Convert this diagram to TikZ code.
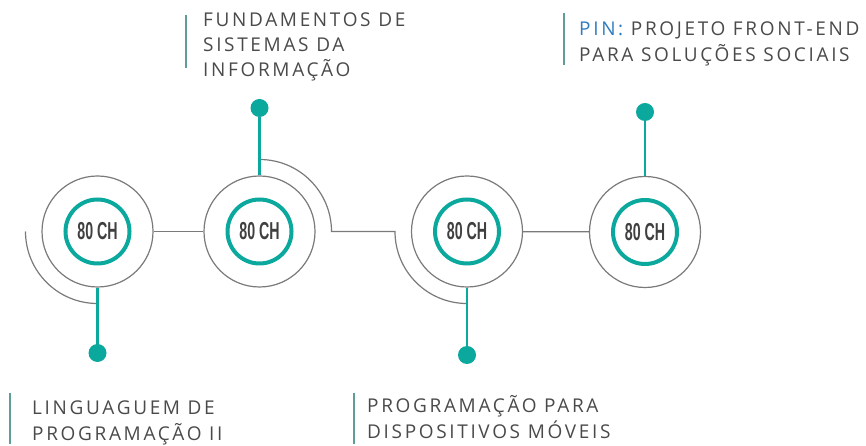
\documentclass[tikz,border=0pt]{standalone}
\usepackage{fontspec}
\newfontfamily\labelfont[LetterSpace=14]{Open Sans}
\newfontfamily\chfont{Liberation Sans}
\definecolor{teal1}{HTML}{0AA89D}
\definecolor{grayline}{HTML}{7A7A7A}
\definecolor{bar}{HTML}{5E9E98}
\definecolor{txt}{HTML}{4A4A4A}
\definecolor{pinblue}{HTML}{2E7CC0}
\definecolor{chtxt}{HTML}{404040}
\newcommand{\chlabel}{\scalebox{0.58}[1]{\chfont\bfseries\fontsize{24.5}{24.5}\selectfont 80 CH}}
\newcommand{\lbl}[1]{\parbox[t]{320pt}{\labelfont\fontsize{19}{25.5}\selectfont\raggedright #1}}
\tikzset{
  outer/.style={circle, draw=grayline, line width=1.2pt, minimum size=111pt, inner sep=0pt},
  ring/.style={circle, draw=teal1, line width=4pt, minimum size=64pt, inner sep=0pt, text=chtxt},
  dot/.style={circle, fill=teal1, minimum size=18pt, inner sep=0pt},
  link/.style={draw=grayline, line width=1.2pt},
  stem/.style={draw=teal1, line width=2.3pt},
  sidebar/.style={draw=bar, line width=2pt},
  lab/.style={anchor=base west, inner sep=0pt, text=txt}
}
\begin{document}
\begin{tikzpicture}[x=1pt,y=1pt]
\useasboundingbox (0,0) rectangle (866,446);
% circles (y = 446 - pixel y)
\node[outer] (c1) at (97.5,214.5) {};
\node[outer] (c2) at (259.5,214.5) {};
\node[outer] (c3) at (467,214.5) {};
\node[outer] (c4) at (645,214) {};
\node[ring] (t1) at (c1) {\chlabel};
\node[ring] (t2) at (c2) {\chlabel};
\node[ring] (t3) at (c3) {\chlabel};
\node[ring] (t4) at (c4) {\chlabel};
% dots
\node[dot] (d1) at (97.5,93) {};
\node[dot] (d2) at (259.5,338) {};
\node[dot] (d3) at (467,91) {};
\node[dot] (d4) at (645,334) {};
% gray connectors
\draw[link] (c1) -- (c2);
\draw[link] (c3) -- (c4);
\coordinate (a1s) at ([xshift=-72pt]c1.center);
\coordinate (a2s) at ([yshift=72pt]c2.center);
\coordinate (a3s) at ([xshift=-72pt]c3.center);
\draw[link] (a1s) arc (180:270:72pt);
\draw[link] (a2s) arc (90:0:72pt) -- (a3s) arc (180:270:72pt);
% teal stems
\draw[stem] (d1) -- (c1.south);
\draw[stem] (d2) -- (c2.north);
\draw[stem] (d3) -- (c3.south);
\draw[stem] (d4) -- (c4.north);
% labels
\coordinate (b2t) at (186,431); \coordinate (b2b) at (186,378);
\draw[sidebar] (b2t) -- (b2b);
\node[lab] (l2) at (203,419.5) {\parbox[t]{320pt}{\labelfont\fontsize{19}{25}\selectfont\raggedright FUNDAMENTOS DE\\SISTEMAS DA\\INFORMAÇÃO}};
\coordinate (b4t) at (564,433); \coordinate (b4b) at (564,381);
\draw[sidebar] (b4t) -- (b4b);
\node[lab] (l4) at (579,410) {\lbl{\textcolor{pinblue}{PIN:} PROJETO FRONT-END\\PARA SOLUÇÕES SOCIAIS}};
\coordinate (b1t) at (10,53); \coordinate (b1b) at (10,2);
\draw[sidebar] (b1t) -- (b1b);
\node[lab] (l1) at (32,31) {\lbl{LINGUAGUEM DE\\PROGRAMAÇÃO II}};
\coordinate (b3t) at (354,53); \coordinate (b3b) at (354,2);
\draw[sidebar] (b3t) -- (b3b);
\node[lab] (l3) at (367,33) {\lbl{PROGRAMAÇÃO PARA\\DISPOSITIVOS MÓVEIS}};
\end{tikzpicture}
\end{document}
